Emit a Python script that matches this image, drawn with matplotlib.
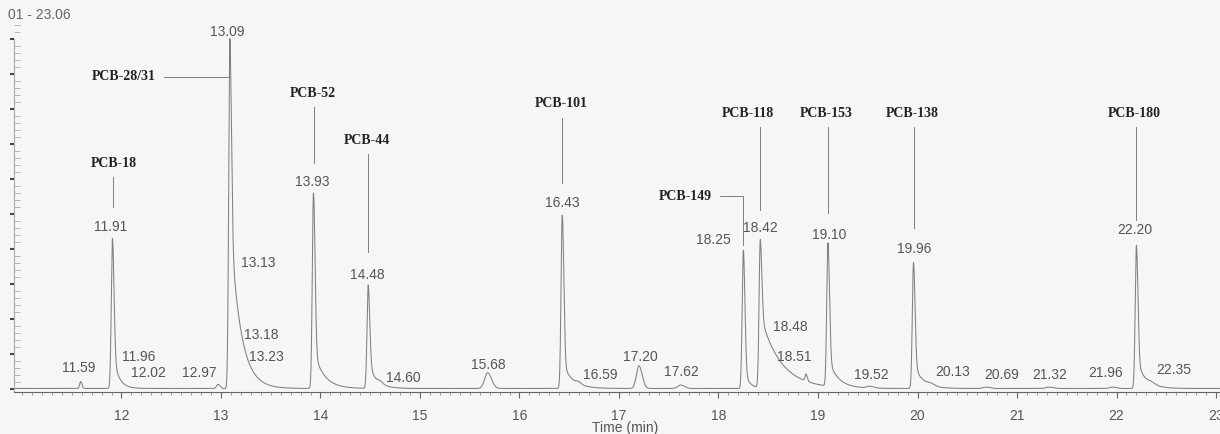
import numpy as np
import matplotlib.pyplot as plt
from matplotlib.ticker import MultipleLocator

# peak table: retention time (min), relative abundance,
# core width (min), tail fraction and tail decay (min)
peak_rt = [11.59, 11.91, 12.97, 13.09, 13.93, 14.48, 14.60, 15.68, 16.43, 16.59, 17.20, 17.62,
           18.25, 18.42, 18.88, 19.10, 19.52, 19.96, 20.13, 20.69, 21.32, 21.96, 22.20, 22.35]
peak_height = [2.0, 43.0, 1.2, 100.0, 56.0, 29.6, 0.6, 4.5, 49.6, 0.6, 6.5, 1.0,
               39.6, 42.4, 2.0, 41.0, 0.5, 36.0, 0.6, 0.4, 0.4, 0.4, 41.0, 0.5]
peak_sigma = [0.01, 0.012, 0.015, 0.012, 0.012, 0.012, 0.02, 0.03, 0.012, 0.02, 0.025, 0.03,
              0.012, 0.012, 0.01, 0.012, 0.03, 0.012, 0.03, 0.03, 0.03, 0.03, 0.012, 0.03]
peak_tail = [0, 0.25, 0, 0.5, 0.2, 0.25, 0, 0, 0.15, 0, 0, 0,
             0.15, 0.5, 0, 0.2, 0, 0.2, 0, 0, 0, 0, 0.2, 0]
peak_tau = [0.1, 0.055, 0.1, 0.1, 0.1, 0.08, 0.1, 0.1, 0.1, 0.1, 0.1, 0.1,
            0.05, 0.2, 0.1, 0.09, 0.1, 0.09, 0.1, 0.1, 0.1, 0.1, 0.09, 0.1]

# retention time labels printed on the trace
rt_labels = ['11.59', '11.91', '11.96', '12.02', '12.97', '13.09', '13.13', '13.18', '13.23',
             '13.93', '14.48', '14.60', '15.68', '16.43', '16.59', '17.20', '17.62', '18.25',
             '18.42', '18.48', '18.51', '19.10', '19.52', '19.96', '20.13', '20.69', '21.32',
             '21.96', '22.20', '22.35']
rt_label_x = [11.57, 11.89, 12.17, 12.27, 12.78, 13.06, 13.37, 13.40, 13.46,
              13.92, 14.47, 14.83, 15.69, 16.43, 16.81, 17.21, 17.63, 17.95,
              18.42, 18.72, 18.76, 19.11, 19.54, 19.97, 20.35, 20.85, 21.33,
              21.89, 22.18, 22.58]
rt_label_y = [5.9, 46.1, 9.0, 4.4, 4.4, 101.9, 35.9, 15.3, 9.0,
              59.0, 32.4, 3.0, 6.7, 53.0, 3.9, 9.0, 4.7, 42.4,
              45.9, 17.6, 9.0, 43.9, 3.9, 39.9, 4.7, 3.9, 3.9,
              4.4, 45.3, 5.3]

# compound names with the peak they point to
pcb_names = ['PCB-18', 'PCB-28/31', 'PCB-52', 'PCB-44', 'PCB-101', 'PCB-149',
             'PCB-118', 'PCB-153', 'PCB-138', 'PCB-180']
pcb_rt = [11.91, 13.09, 13.93, 14.48, 16.43, 18.25, 18.42, 19.10, 19.96, 22.20]
pcb_x = [11.92, 12.34, 13.92, 14.47, 16.42, 17.93, 18.30, 19.08, 19.95, 22.18]
pcb_y = [64.4, 89.0, 84.4, 71.0, 81.3, 55.0, 78.7, 78.7, 78.7, 78.7]
pcb_leader_end = [51.9, 89.0, 64.4, 39.0, 58.7, 41.0, 51.0, 50.1, 45.9, 48.1]
pcb_side = ['top', 'left', 'top', 'top', 'top', 'left', 'top', 'top', 'top', 'top']

t_start, t_end = 10.92, 23.04

t = np.linspace(t_start, t_end, 8000)
signal = np.zeros_like(t)
for rt, h, s, a, tau in zip(peak_rt, peak_height, peak_sigma, peak_tail, peak_tau):
    dt = t - rt
    left = np.exp(-0.5 * (dt / s) ** 2)
    right = (1 - a) * np.exp(-0.5 * (dt / (1.3 * s)) ** 2) + a * np.exp(-np.clip(dt, 0, None) / tau)
    signal += h * np.where(dt < 0, left, right)

bg = '#f6f6f8'
fig = plt.figure(figsize=(12.2, 4.34), dpi=100, facecolor=bg)
ax = fig.add_axes([14 / 1220, 42 / 434, 1 - 14 / 1220, 371 / 434], facecolor=bg)

ax.plot(t, signal, color='#808080', lw=0.75)

num_font = dict(family='Liberation Sans', fontsize=10, color='#555555')
for txt, x, y in zip(rt_labels, rt_label_x, rt_label_y):
    ax.text(x, y, txt, ha='center', va='center', **num_font)

name_font = dict(family='Liberation Serif', fontsize=10, fontweight='bold', color='#222222')
for name, rt, x, y, end, side in zip(pcb_names, pcb_rt, pcb_x, pcb_y, pcb_leader_end, pcb_side):
    if side == 'top':
        ax.text(x, y, name, ha='center', va='center', **name_font)
        ax.plot([rt, rt], [y - 4, end], color='#808080', lw=0.7)
    else:
        ax.text(x, y, name, ha='right', va='center', **name_font)
        ax.plot([x + 0.09, rt], [y, y], color='#808080', lw=0.7)
        if end < y:
            ax.plot([rt, rt], [y, end], color='#808080', lw=0.7)

ax.set_xlim(t_start, t_end)
ax.set_ylim(-1, 105)

for s in ['top', 'right']:
    ax.spines[s].set_visible(False)
ax.spines['left'].set_bounds(-1, 100)
ax.spines['left'].set_color('#aaaaaa')
ax.spines['bottom'].set_color('#666666')

ax.set_xticks(range(12, 24))
ax.xaxis.set_minor_locator(MultipleLocator(0.1))
ax.tick_params(axis='x', which='major', direction='out', length=4, color='#666666',
               labelsize=10, labelcolor='#555555', pad=8)
ax.tick_params(axis='x', which='minor', direction='out', length=2.5, color='#888888')
for lab in ax.get_xticklabels():
    lab.set_family('Liberation Sans')

ax.set_yticks(range(0, 101, 10))
ax.yaxis.set_minor_locator(MultipleLocator(2))
ax.tick_params(axis='y', which='major', direction='out', length=3, width=1.5, color='#444444',
               labelleft=False)
ax.tick_params(axis='y', which='minor', direction='in', length=4, color='#aaaaaa')

ax.text(0.507, -0.097, 'Time (min)', transform=ax.transAxes, ha='center', va='center',
        **num_font)
fig.text(8 / 1220, 1 - 15 / 434, '01 - 23.06', ha='left', va='center',
         family='Liberation Sans', fontsize=10, color='#666666')

fig.savefig('out.png', dpi=100, facecolor=bg)
